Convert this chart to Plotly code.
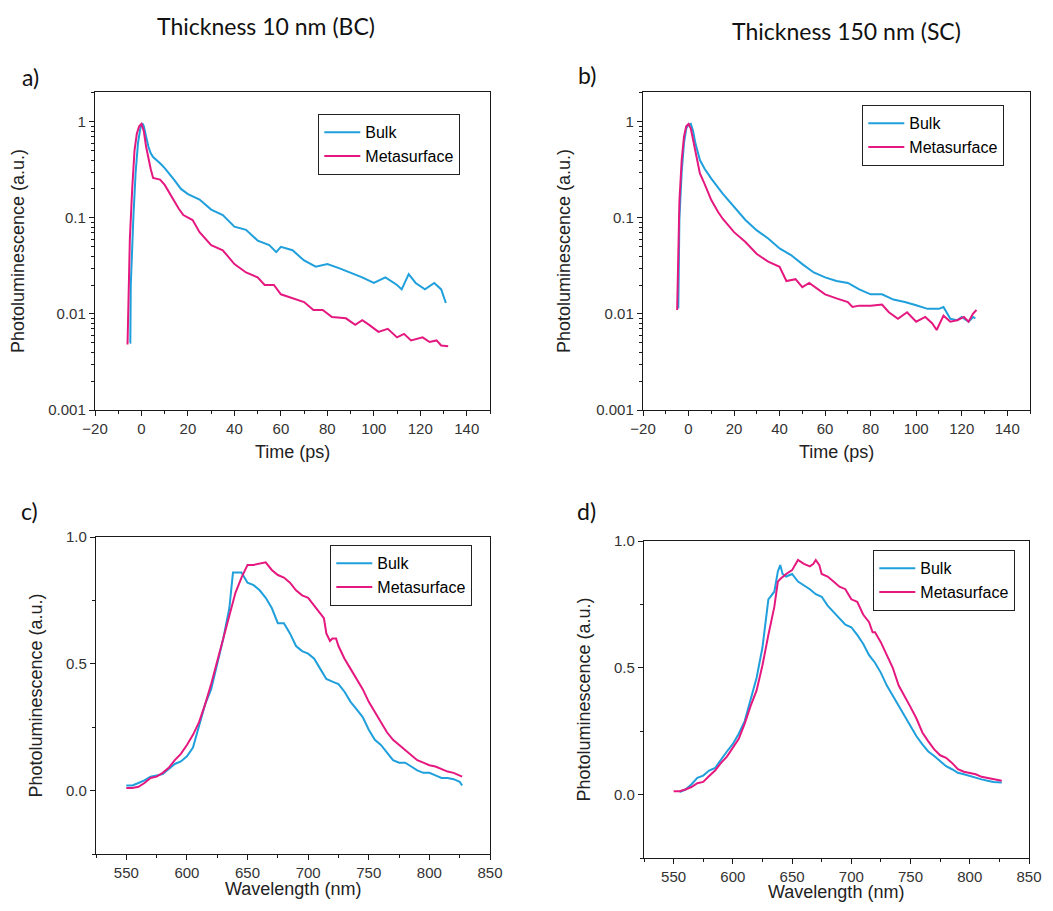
import plotly.graph_objects as go

# ---- data ----
# a) thickness 10 nm, time-resolved PL
time_a_bulk = [-5, -4.8, -4.6, -4.2, -3.5, -2.5, -1.5, -0.5, 0, 0.5, 1, 2, 3, 4, 5, 8, 10, 14, 17, 20,
               25, 30, 35, 40, 45, 50, 55, 58, 60, 65, 70, 75, 80, 85, 90, 95, 100, 105, 110, 112,
               115, 118, 122, 126, 129, 131]
pl_a_bulk = [0.005, 0.005, 0.02, 0.04, 0.1, 0.3, 0.6, 0.85, 0.93, 0.95, 0.9, 0.7, 0.55, 0.47, 0.43, 0.37,
             0.33, 0.25, 0.2, 0.177, 0.155, 0.122, 0.107, 0.081, 0.075, 0.058, 0.052, 0.044, 0.05, 0.046,
             0.036, 0.031, 0.033, 0.030, 0.027, 0.024, 0.021, 0.024, 0.020, 0.018, 0.026, 0.021, 0.018,
             0.021, 0.018, 0.013]
time_a_meta = [-6, -5.5, -5, -4, -3, -2, -1, 0, 1, 2, 3, 4, 5, 8, 10, 13, 16, 18, 20, 22, 25, 30, 35, 40,
               45, 50, 53, 57, 60, 65, 70, 74, 78, 82, 88, 92, 95, 98, 102, 106, 110, 113, 116, 121,
               124, 127, 129, 132]
pl_a_meta = [0.0048, 0.02, 0.06, 0.2, 0.5, 0.75, 0.9, 0.95, 0.8, 0.55, 0.4, 0.32, 0.26, 0.25, 0.22, 0.165,
             0.125, 0.107, 0.10, 0.095, 0.071, 0.052, 0.046, 0.033, 0.027, 0.024, 0.020, 0.020, 0.016,
             0.0145, 0.0133, 0.011, 0.011, 0.0093, 0.009, 0.0077, 0.0086, 0.0077, 0.0065, 0.007, 0.0057,
             0.0062, 0.0053, 0.0057, 0.0051, 0.0053, 0.0047, 0.0046]

# b) thickness 150 nm, time-resolved PL
time_b_bulk = [-4.5, -4, -3, -2, -1, 0, 1, 2, 3, 4, 5, 7, 10, 15, 20, 25, 30, 35, 40, 45, 50, 55, 60, 65,
               70, 75, 80, 85, 90, 95, 100, 105, 110, 112, 115, 118, 120, 123, 125, 126]
pl_b_bulk = [0.0114, 0.1, 0.3, 0.6, 0.85, 0.93, 0.95, 0.8, 0.6, 0.48, 0.4, 0.326, 0.256, 0.179, 0.13,
             0.095, 0.074, 0.061, 0.048, 0.041, 0.033, 0.027, 0.024, 0.022, 0.021, 0.018, 0.016, 0.016,
             0.0141, 0.0133, 0.0123, 0.0113, 0.0113, 0.0118, 0.0089, 0.0086, 0.0093, 0.0083, 0.0093, 0.009]
time_b_meta = [-5, -4.5, -4, -3, -2, -1, 0, 1, 2, 3, 4, 5, 7, 10, 13, 15, 20, 25, 30, 35, 40, 43, 47, 50,
               53, 57, 60, 65, 70, 72, 75, 80, 85, 88, 92, 96, 100, 104, 107, 109, 112, 115, 118, 121,
               123, 125, 126.5]
pl_b_meta = [0.011, 0.05, 0.15, 0.4, 0.7, 0.9, 0.95, 0.85, 0.65, 0.48, 0.38, 0.29, 0.227, 0.153, 0.115,
             0.098, 0.071, 0.056, 0.042, 0.035, 0.031, 0.022, 0.023, 0.019, 0.021, 0.018, 0.016, 0.0145,
             0.0133, 0.0118, 0.0122, 0.0122, 0.0125, 0.0104, 0.0089, 0.0104, 0.0083, 0.0093, 0.008,
             0.0068, 0.0096, 0.0083, 0.0086, 0.0093, 0.0083, 0.0101, 0.011]

# c) thickness 10 nm, PL spectra
wl_c_bulk = [550, 555, 560, 565, 570, 575, 580, 585, 590, 595, 600, 605, 610, 615, 620, 625, 630, 635,
             638, 640, 645, 650, 655, 660, 665, 670, 675, 680, 685, 690, 695, 700, 705, 710, 715, 720,
             725, 730, 735, 740, 745, 750, 755, 760, 765, 770, 775, 780, 785, 790, 795, 800, 805, 810,
             815, 820, 825, 827]
pl_c_bulk = [0.02, 0.02, 0.03, 0.04, 0.055, 0.06, 0.065, 0.085, 0.105, 0.115, 0.135, 0.17, 0.25, 0.34,
             0.40, 0.5, 0.6, 0.72, 0.86, 0.86, 0.86, 0.82, 0.81, 0.79, 0.76, 0.72, 0.66, 0.66, 0.62, 0.57,
             0.55, 0.54, 0.52, 0.48, 0.44, 0.43, 0.42, 0.39, 0.35, 0.32, 0.29, 0.24, 0.20, 0.18, 0.15,
             0.12, 0.11, 0.11, 0.095, 0.08, 0.07, 0.07, 0.06, 0.05, 0.05, 0.045, 0.035, 0.02]
wl_c_meta = [550, 555, 560, 565, 570, 575, 580, 585, 590, 595, 600, 605, 610, 615, 620, 625, 630, 635,
             640, 645, 650, 655, 660, 665, 670, 675, 680, 685, 690, 695, 700, 705, 710, 713, 715, 718,
             720, 723, 725, 730, 735, 740, 745, 750, 755, 760, 765, 770, 775, 780, 785, 790, 795, 800,
             805, 810, 815, 820, 825, 827]
pl_c_meta = [0.01, 0.01, 0.015, 0.03, 0.05, 0.055, 0.07, 0.09, 0.12, 0.145, 0.18, 0.22, 0.27, 0.34, 0.42,
             0.51, 0.60, 0.69, 0.78, 0.84, 0.89, 0.89, 0.895, 0.9, 0.87, 0.85, 0.84, 0.82, 0.79, 0.77,
             0.76, 0.73, 0.70, 0.68, 0.62, 0.59, 0.60, 0.60, 0.57, 0.52, 0.48, 0.44, 0.40, 0.35, 0.31,
             0.27, 0.23, 0.20, 0.18, 0.16, 0.14, 0.12, 0.11, 0.10, 0.095, 0.085, 0.075, 0.07, 0.06, 0.055]

# d) thickness 150 nm, PL spectra
wl_d_bulk = [555, 560, 565, 570, 575, 580, 585, 590, 595, 600, 605, 610, 615, 620, 625, 630, 635, 638,
             640, 642, 645, 650, 655, 660, 665, 670, 675, 680, 685, 690, 695, 700, 705, 710, 715, 720,
             725, 730, 735, 740, 745, 750, 755, 760, 765, 770, 775, 780, 785, 790, 795, 800, 805, 810,
             815, 820, 827]
pl_d_bulk = [0.01, 0.02, 0.04, 0.066, 0.075, 0.095, 0.105, 0.14, 0.17, 0.20, 0.24, 0.29, 0.37, 0.46,
             0.58, 0.77, 0.80, 0.88, 0.905, 0.87, 0.86, 0.87, 0.84, 0.825, 0.81, 0.79, 0.78, 0.745, 0.72,
             0.695, 0.67, 0.66, 0.63, 0.595, 0.55, 0.52, 0.48, 0.43, 0.39, 0.35, 0.31, 0.27, 0.23, 0.198,
             0.17, 0.152, 0.13, 0.112, 0.1, 0.086, 0.08, 0.073, 0.065, 0.06, 0.055, 0.05, 0.048]
wl_d_meta = [550, 555, 560, 565, 570, 575, 580, 585, 590, 595, 600, 605, 610, 615, 620, 625, 630, 635,
             638, 640, 645, 650, 655, 660, 665, 668, 670, 673, 675, 680, 685, 690, 695, 700, 705, 710,
             715, 718, 720, 725, 730, 735, 740, 745, 750, 755, 760, 765, 770, 775, 780, 785, 790, 795,
             800, 805, 810, 815, 820, 827]
pl_d_meta = [0.013, 0.013, 0.02, 0.03, 0.045, 0.05, 0.073, 0.095, 0.125, 0.15, 0.185, 0.22, 0.28, 0.35,
             0.41, 0.51, 0.63, 0.74, 0.84, 0.85, 0.87, 0.885, 0.925, 0.91, 0.90, 0.91, 0.925, 0.905, 0.87,
             0.86, 0.84, 0.82, 0.81, 0.77, 0.76, 0.71, 0.68, 0.64, 0.64, 0.60, 0.55, 0.50, 0.43, 0.39,
             0.345, 0.30, 0.245, 0.21, 0.178, 0.155, 0.145, 0.125, 0.10, 0.09, 0.086, 0.08, 0.07, 0.065,
             0.06, 0.055]

BLUE = "#1f9fdc"
PINK = "#e5187f"
# the page body has an 8px margin, so the figure is a little smaller than the window
OFF = 8
W, H = 1053 - 2 * OFF, 911 - 2 * OFF
TICK_FONT = dict(family="Liberation Sans, Arial", size=15, color="#333333")
TITLE_FONT = dict(family="Liberation Sans, Arial", size=18, color="#222222")
CAL_FONT = dict(family="Lato", size=23, color="#111111")

panels = [
    ("", time_a_bulk, pl_a_bulk, time_a_meta, pl_a_meta, "legend"),
    ("2", time_b_bulk, pl_b_bulk, time_b_meta, pl_b_meta, "legend2"),
    ("3", wl_c_bulk, pl_c_bulk, wl_c_meta, pl_c_meta, "legend3"),
    ("4", wl_d_bulk, pl_d_bulk, wl_d_meta, pl_d_meta, "legend4"),
]

fig = go.Figure()
for n, xb, yb, xm, ym, leg in panels:
    fig.add_trace(go.Scatter(x=xb, y=yb, mode="lines", name="Bulk",
                             line=dict(color=BLUE, width=2),
                             xaxis="x" + n, yaxis="y" + n, legend=leg))
    fig.add_trace(go.Scatter(x=xm, y=ym, mode="lines", name="Metasurface",
                             line=dict(color=PINK, width=2),
                             xaxis="x" + n, yaxis="y" + n, legend=leg))

axis_style = dict(showline=True, linecolor="#1a1a1a", linewidth=1.4, mirror=True,
                  ticks="outside", ticklen=5, tickwidth=1.2, tickcolor="#1a1a1a",
                  showgrid=False, zeroline=False, automargin=False, tickfont=TICK_FONT)


def fx(px):
    return (px - OFF) / W


def fy(py):
    return 1 - (py - OFF) / H


def px_dom(a, b):
    return [fx(a), fx(b)]


def py_dom(top, bottom):
    return [fy(bottom), fy(top)]


minor_x_time = dict(dtick=10, ticks="outside", ticklen=3, tickcolor="#1a1a1a")
minor_x_wl = dict(dtick=25, ticks="outside", ticklen=3, tickcolor="#1a1a1a")

time_x = dict(axis_style, range=[-20, 150], tick0=0, dtick=20, minor=minor_x_time)
log_y = dict(axis_style, type="log", range=[-3, 0.31],
             tickvals=[0.001, 0.01, 0.1, 1], ticktext=["0.001", "0.01", "0.1", "1"],
             minor=dict(dtick="D1", ticks="outside", ticklen=3, tickcolor="#1a1a1a"),
             title=dict(text="Photoluminescence (a.u.)", font=TITLE_FONT, standoff=20))
lin_y = dict(axis_style, range=[-0.25, 1.0], tick0=0, dtick=0.5, tickformat=".1f",
             minor=dict(dtick=0.25, ticks="outside", ticklen=3, tickcolor="#1a1a1a"),
             title=dict(text="Photoluminescence (a.u.)", font=TITLE_FONT, standoff=18))
wl_x = dict(axis_style, range=[525, 850], tick0=550, dtick=50, minor=minor_x_wl)

legend_style = dict(bgcolor="white", bordercolor="#222222", borderwidth=1.3,
                    font=dict(family="Liberation Sans, Arial", size=16, color="black"),
                    xanchor="left", yanchor="top", tracegroupgap=0, itemwidth=36)

fig.update_layout(
    width=W, height=H,
    margin=dict(l=0, r=0, t=0, b=0, autoexpand=False),
    paper_bgcolor="white", plot_bgcolor="white",
    xaxis=dict(time_x, domain=px_dom(95, 490), anchor="y"),
    yaxis=dict(log_y, domain=py_dom(92, 410), anchor="x"),
    xaxis2=dict(time_x, domain=px_dom(643, 1030), anchor="y2"),
    yaxis2=dict(log_y, domain=py_dom(92, 410), anchor="x2"),
    xaxis3=dict(wl_x, domain=px_dom(96, 490), anchor="y3"),
    yaxis3=dict(lin_y, domain=py_dom(537, 854), anchor="x3"),
    xaxis4=dict(wl_x, domain=px_dom(644, 1029), anchor="y4"),
    yaxis4=dict(lin_y, domain=py_dom(541, 858), anchor="x4"),
    legend=dict(legend_style, x=fx(318), y=fy(114)),
    legend2=dict(legend_style, x=fx(862), y=fy(105)),
    legend3=dict(legend_style, x=fx(330), y=fy(545)),
    legend4=dict(legend_style, x=fx(873), y=fy(550)),
)

labels = [
    ("Thickness 10 nm (BC)", 266, 26, CAL_FONT),
    ("Thickness 150 nm (SC)", 846, 31, CAL_FONT),
    ("a)", 30, 77, CAL_FONT),
    ("b)", 587, 75, CAL_FONT),
    ("c)", 29, 511, CAL_FONT),
    ("d)", 586, 511, CAL_FONT),
    # x-axis titles
    ("Time (ps)", 292, 452, TITLE_FONT),
    ("Time (ps)", 836, 452, TITLE_FONT),
    ("Wavelength (nm)", 293, 889, TITLE_FONT),
    ("Wavelength (nm)", 836, 892, TITLE_FONT),
]
for text, x, y, font in labels:
    fig.add_annotation(text=text, x=fx(x), y=fy(y), xref="paper", yref="paper",
                       xanchor="center", yanchor="middle", showarrow=False, font=font)

fig.write_html("out.html")
